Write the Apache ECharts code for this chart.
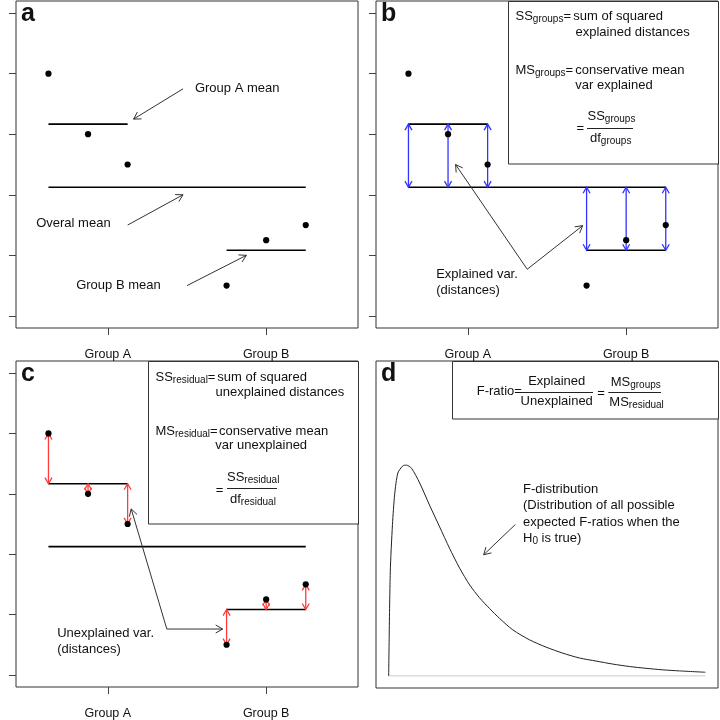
<!DOCTYPE html>
<html><head><meta charset="utf-8">
<script src="https://cdn.jsdelivr.net/npm/echarts@6/dist/echarts.min.js"></script>
<style>html,body{margin:0;padding:0;background:#fff}#c{width:720px;height:720px}</style>
</head><body><div id="c"></div>
<script>
// ---------------- data ----------------
const groupNames = ['Group A', 'Group B'];
const groupTickX = [2.5, 6.5];
const yTicks = [1, 2, 3, 4, 5, 6];
const pointX = [1, 2, 3, 5.5, 6.5, 7.5];
const pointY = [5, 4, 3.5, 1.5, 2.25, 2.5];
const pointGroup = [0, 0, 0, 1, 1, 1];
const groupMeans = [4.167, 2.083];
const grandMean = 3.125;
// F-distribution curve (panel d)
const fX = [0, 0.05, 0.12, 0.19, 0.29, 0.45, 0.56, 0.72, 0.98, 1.29, 1.61, 1.92, 2.24, 2.56, 2.87, 3.19, 3.5, 3.92, 4.45, 4.97, 5.5, 6.03, 6.55, 7.08, 7.6, 8.13, 8.65, 9.18, 10];
const fY = [0, 0.34, 0.50, 0.60, 0.67, 0.694, 0.696, 0.686, 0.637, 0.564, 0.492, 0.422, 0.356, 0.30, 0.258, 0.222, 0.19, 0.152, 0.119, 0.095, 0.075, 0.059, 0.049, 0.039, 0.031, 0.025, 0.020, 0.0165, 0.012];

// annotation anchors (data units of each panel)
const annoA = [
  {text: 'Group A mean', x: 4.70, y: 4.76},
  {text: 'Overal mean', x: 0.69, y: 2.53},
  {text: 'Group B mean', x: 1.70, y: 1.51}
];
const arrowsA = [[4.4, 4.75, 3.15, 4.25], [3.0, 2.5, 4.4, 3.0], [4.5, 1.5, 6.0, 2.0]];
const annoB = [{text: 'Explained var.\n(distances)', x: 1.70, y: 1.56}];
const arrowsB = [[4.0, 1.77, 2.19, 3.5], [4.0, 1.77, 5.4, 2.49]];
const annoC = [{text: 'Unexplained var.\n(distances)', x: 1.22, y: 1.56}];
const arrowsC = [[3.99, 1.76, 3.09, 3.75], [3.99, 1.76, 5.4, 1.76]];
const arrowsD = [[4.0, 0.50, 3.0, 0.40]];

// ---------------- helpers ----------------
const FONT = '"Liberation Sans", Arial, Helvetica, sans-serif';
const TXT = '#111';
const mctx = document.createElement('canvas').getContext('2d');
function tw(t, s) { mctx.font = s + 'px ' + FONT; return mctx.measureText(t).width; }

const gMin = g => Math.min(...pointX.filter((x, i) => pointGroup[i] === g));
const gMax = g => Math.max(...pointX.filter((x, i) => pointGroup[i] === g));
const meanSegs = [
  [gMin(0), groupMeans[0], gMax(0), groupMeans[0]],
  [gMin(1), groupMeans[1], gMax(1), groupMeans[1]],
  [Math.min(...pointX), grandMean, Math.max(...pointX), grandMean]
];
const blueArrows = pointX.map((x, i) => [x, groupMeans[pointGroup[i]], x, grandMean]);
const redArrows = pointX.map((x, i) => [x, pointY[i], x, groupMeans[pointGroup[i]]]);

function segRender(color, width, head, both, endHead) {
  return function (params, api) {
    const p1 = api.coord([api.value(0), api.value(1)]);
    const p2 = api.coord([api.value(2), api.value(3)]);
    const ch = [{type: 'line', shape: {x1: p1[0], y1: p1[1], x2: p2[0], y2: p2[1]},
      style: {stroke: color, lineWidth: width}}];
    const addHead = (tip, from) => {
      const ang = Math.atan2(from[1] - tip[1], from[0] - tip[0]);
      const a = Math.PI / 6;
      ch.push({type: 'polyline', shape: {points: [
        [tip[0] + head * Math.cos(ang + a), tip[1] + head * Math.sin(ang + a)],
        [tip[0], tip[1]],
        [tip[0] + head * Math.cos(ang - a), tip[1] + head * Math.sin(ang - a)]]},
        style: {stroke: color, lineWidth: width, fill: null}});
    };
    if (endHead) addHead(p2, p1);
    if (both) addHead(p1, p2);
    return {type: 'group', children: ch};
  };
}
function segSeries(idx, data, color, width, head, both, endHead, z) {
  return {type: 'custom', xAxisIndex: idx, yAxisIndex: idx, data: data, silent: true, clip: false, z: z || 3,
    renderItem: segRender(color, width, head, both, endHead)};
}
function textSeries(idx, items) {
  return {type: 'custom', xAxisIndex: idx, yAxisIndex: idx, silent: true, clip: false, z: 4,
    data: items.map(d => [d.x, d.y]),
    renderItem: (params, api) => {
      const p = api.coord([api.value(0), api.value(1)]);
      const it = items[params.dataIndex];
      return {type: 'text', x: p[0], y: p[1], style: {text: it.text, font: '13px ' + FONT, fill: TXT,
        textAlign: 'left', textVerticalAlign: 'middle', lineHeight: 16}};
    }};
}
function pointSeries(idx) {
  return {type: 'scatter', xAxisIndex: idx, yAxisIndex: idx, symbol: 'circle', symbolSize: 6.2, z: 5,
    itemStyle: {color: '#000', opacity: 1}, silent: true,
    data: pointX.map((x, i) => [x, pointY[i]])};
}

// graphic text helpers (pixel positioned inset text)
function gtext(x, y, t, s, align, weight) {
  return {type: 'text', x: x, y: y, silent: true, z: 10,
    style: {text: t, font: (weight || '') + ' ' + s + 'px ' + FONT, fill: TXT,
      textAlign: align || 'left', textVerticalAlign: 'middle'}};
}
function parts(x, y, list) {
  const els = []; let cx = x;
  for (const [t, s, dy] of list) { els.push(gtext(cx, y + (dy || 0), t, s)); cx += tw(t, s); }
  return els;
}
function hline(x1, x2, y) {
  return {type: 'line', silent: true, z: 10, shape: {x1: x1, y1: y, x2: x2, y2: y}, style: {stroke: '#222', lineWidth: 1}};
}
function box(x, y, w, h) {
  return {type: 'rect', silent: true, z: 9, shape: {x: x, y: y, width: w, height: h},
    style: {fill: '#fff', stroke: '#333', lineWidth: 1}};
}

const graphic = [
  gtext(21, 14, 'a', 25, 'left', 'bold'),
  gtext(381, 14, 'b', 25, 'left', 'bold'),
  gtext(21, 374, 'c', 25, 'left', 'bold'),
  gtext(381, 374, 'd', 25, 'left', 'bold'),
  // panel b inset
  box(508.5, 1.5, 210, 162.5),
  ...parts(515.5, 16.7, [['SS', 13], ['groups', 10, 3], ['=', 13]]),
  gtext(573.3, 16.7, 'sum of squared', 13),
  gtext(575.5, 32.7, 'explained distances', 13),
  ...parts(515.5, 70.5, [['MS', 13], ['groups', 10, 3], ['=', 13]]),
  gtext(575.3, 70.5, 'conservative mean', 13),
  gtext(575.3, 85.7, 'var explained', 13),
  gtext(576.5, 128, '=', 13),
  hline(587, 633, 128.5),
  ...parts(587.5, 116.5, [['SS', 13], ['groups', 10, 3]]),
  ...parts(590, 138, [['df', 13], ['groups', 10, 3]]),
  // panel c inset
  box(148.5, 361.5, 210, 162.5),
  ...parts(155.5, 377.5, [['SS', 13], ['residual', 10, 3], ['=', 13]]),
  gtext(217.3, 377.5, 'sum of squared', 13),
  gtext(215.5, 392.7, 'unexplained distances', 13),
  ...parts(155.5, 431.7, [['MS', 13], ['residual', 10, 3], ['=', 13]]),
  gtext(219, 431.7, 'conservative mean', 13),
  gtext(215.3, 445.7, 'var unexplained', 13),
  gtext(215.7, 490, '=', 13),
  hline(227, 277, 488.5),
  ...parts(227, 477.3, [['SS', 13], ['residual', 10, 3]]),
  ...parts(230, 499.3, [['df', 13], ['residual', 10, 3]]),
  // panel d inset
  box(452.5, 361.5, 266, 57.5),
  gtext(476.7, 391.7, 'F-ratio=', 13),
  hline(521, 593, 392.5),
  gtext(556.7, 381.7, 'Explained', 13, 'center'),
  gtext(556.7, 401.7, 'Unexplained', 13, 'center'),
  gtext(597.3, 393.3, '=', 13),
  hline(608.3, 661, 392.5),
  ...parts(610.7, 382.7, [['MS', 13], ['groups', 10, 3]]),
  ...parts(609.3, 402.7, [['MS', 13], ['residual', 10, 3]]),
  // panel d annotation
  gtext(523, 489, 'F-distribution', 13),
  gtext(523, 505.5, '(Distribution of all possible', 13),
  gtext(523, 522, 'expected F-ratios when the', 13),
  ...parts(523, 538, [['H', 13], ['0', 10, 3], [' is true)', 13]])
];

// ---------------- axes ----------------
const grids = [
  {left: 16, top: 1, width: 342, height: 327},
  {left: 376, top: 1, width: 342, height: 327},
  {left: 16, top: 361, width: 342, height: 327},
  {left: 376, top: 361, width: 342, height: 327}
].map(g => Object.assign(g, {show: true, borderColor: '#333', borderWidth: 1, backgroundColor: 'transparent'}));

const tickStyle = {color: '#444', width: 1};
function groupX(i) {
  return {type: 'value', gridIndex: i, min: 0.18, max: 8.82,
    axisLine: {show: false, onZero: false}, splitLine: {show: false},
    axisTick: {show: true, inside: false, length: 7, lineStyle: tickStyle, customValues: groupTickX},
    axisLabel: {show: true, margin: 20, fontSize: 12.5, fontFamily: FONT, color: TXT, customValues: groupTickX,
      formatter: v => groupNames[groupTickX.indexOf(v)] || ''}};
}
function groupY(i) {
  return {type: 'value', gridIndex: i, min: 0.8, max: 6.2,
    axisLine: {show: false, onZero: false}, splitLine: {show: false},
    axisTick: {show: true, inside: false, length: 7, lineStyle: tickStyle, customValues: yTicks},
    axisLabel: {show: false}};
}
const xAxes = [groupX(0), groupX(1), groupX(2),
  {type: 'value', gridIndex: 3, min: -0.4, max: 10.4, show: false}];
const yAxes = [groupY(0), groupY(1), groupY(2),
  {type: 'value', gridIndex: 3, min: -0.04, max: 1.04, show: false}];

const BLUE = '#3333ff', RED = '#ff3b3b', ANN = '#333';
const series = [
  // panel a
  segSeries(0, meanSegs, '#000', 1.6, 0, false, false),
  segSeries(0, arrowsA, ANN, 1, 8, false, true),
  textSeries(0, annoA),
  pointSeries(0),
  // panel b
  segSeries(1, meanSegs, '#000', 1.6, 0, false, false),
  segSeries(1, blueArrows, BLUE, 1.3, 7, true, true),
  segSeries(1, arrowsB, ANN, 1, 8, false, true),
  textSeries(1, annoB),
  pointSeries(1),
  // panel c
  segSeries(2, meanSegs, '#000', 1.6, 0, false, false),
  segSeries(2, redArrows, RED, 1.3, 7, true, true),
  segSeries(2, arrowsC, ANN, 1, 8, false, true),
  textSeries(2, annoC),
  pointSeries(2),
  // panel d
  {type: 'line', xAxisIndex: 3, yAxisIndex: 3, silent: true, showSymbol: false, symbol: 'none',
    lineStyle: {color: '#ccc', width: 1}, data: [[fX[0], 0], [fX[fX.length - 1], 0]], z: 2},
  {type: 'line', xAxisIndex: 3, yAxisIndex: 3, silent: true, showSymbol: false, symbol: 'none',
    smooth: 0.25,
    lineStyle: {color: '#222', width: 1}, data: fX.map((x, i) => [x, fY[i]]), z: 3},
  segSeries(3, arrowsD, ANN, 1, 8, false, true)
];

const chart = echarts.init(document.getElementById('c'), null, {renderer: 'canvas'});
chart.setOption({animation: false, backgroundColor: '#fff', grid: grids, xAxis: xAxes, yAxis: yAxes,
  series: series, graphic: graphic});
</script></body></html>
